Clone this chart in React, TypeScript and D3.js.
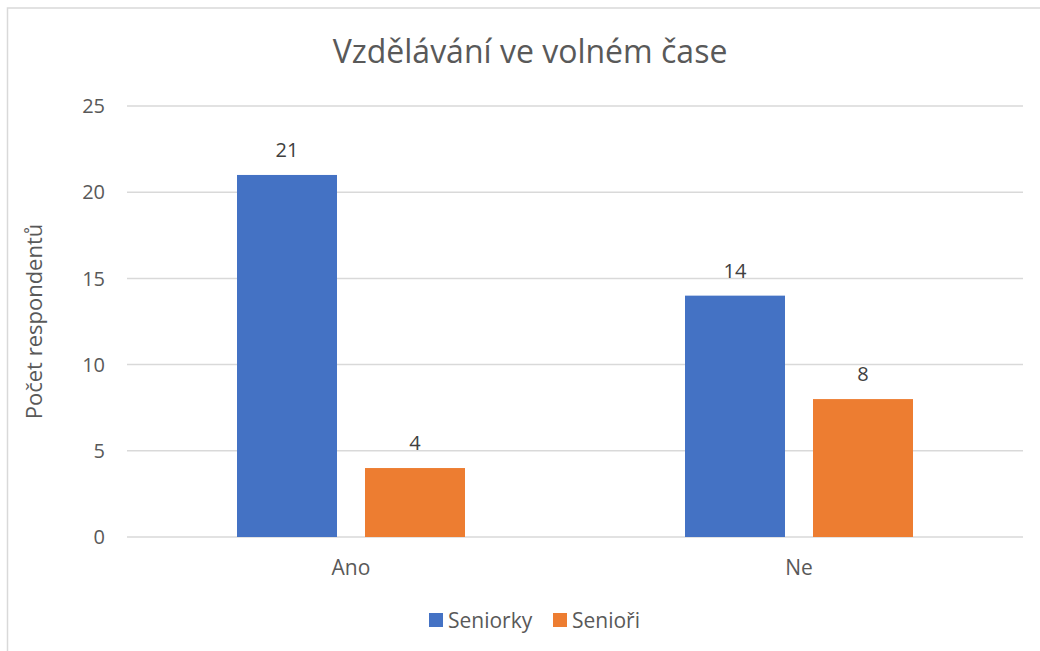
import * as d3 from 'd3'
import React from 'react'

const categories = ['Ano', 'Ne']
const seriesNames = ['Seniorky', 'Senioři']
const seniorky = [21, 14]
const seniori = [4, 8]
const yTicks = [0, 5, 10, 15, 20, 25]
const colors = ['#4472C4', '#ED7D31']

const width = 1040
const height = 651
const plot = { left: 127, right: 1023, top: 106, bottom: 537 }
const font = "'Open Sans', 'Noto Sans', sans-serif"
const textColor = '#595959'

const App = () => {
  const values = [seniorky, seniori]

  const x0 = d3.scaleBand<string>().domain(categories).range([plot.left, plot.right])
  // two 100px bars with a 28px gap, centered in each category band
  const inner = 228
  const x1 = d3
    .scaleBand<string>()
    .domain(seriesNames)
    .range([(x0.bandwidth() - inner) / 2, (x0.bandwidth() + inner) / 2])
    .paddingInner(28 / 128)
  const y = d3.scaleLinear().domain([0, 25]).range([plot.bottom, plot.top])

  return (
    <svg width={width} height={height} style={{ position: 'absolute', left: 0, top: 0 }} fontFamily={font}>
      <rect x={0} y={0} width={width} height={height} fill="#fff" />
      <rect x={7.5} y={8} width={width + 10} height={height + 10} fill="none" stroke="#d9d9d9" strokeWidth={1.5} />

      <text x={530} y={63} textAnchor="middle" fontSize={32} fill={textColor}>
        Vzdělávání ve volném čase
      </text>

      {yTicks.map((t) => (
        <g key={t}>
          <line x1={plot.left} x2={plot.right} y1={y(t)} y2={y(t)} stroke="#d9d9d9" strokeWidth={1.5} />
          <text x={105} y={y(t)} dy="0.36em" textAnchor="end" fontSize={20} fill={textColor}>
            {t}
          </text>
        </g>
      ))}

      <text
        transform={`translate(42,${(plot.top + plot.bottom) / 2}) rotate(-90)`}
        textAnchor="middle"
        fontSize={22}
        fill={textColor}
      >
        Počet respondentů
      </text>

      {categories.map((c, ci) => (
        <g key={c} transform={`translate(${x0(c)},0)`}>
          {seriesNames.map((s, si) => {
            const v = values[si][ci]
            const bx = x1(s) as number
            return (
              <g key={s}>
                <rect x={bx} y={y(v)} width={x1.bandwidth()} height={y(0) - y(v)} fill={colors[si]} />
                <text
                  x={bx + x1.bandwidth() / 2}
                  y={y(v) - 18}
                  textAnchor="middle"
                  fontSize={20}
                  fill="#404040"
                >
                  {v}
                </text>
              </g>
            )
          })}
          <text x={x0.bandwidth() / 2} y={575} textAnchor="middle" fontSize={21} fill={textColor}>
            {c}
          </text>
        </g>
      ))}

      {seriesNames.map((s, si) => {
        const lx = [429, 553][si]
        return (
          <g key={s}>
            <rect x={lx} y={613} width={14} height={14} fill={colors[si]} />
            <text x={lx + 19} y={628} fontSize={21} fill={textColor}>
              {s}
            </text>
          </g>
        )
      })}
    </svg>
  )
}

export default App
